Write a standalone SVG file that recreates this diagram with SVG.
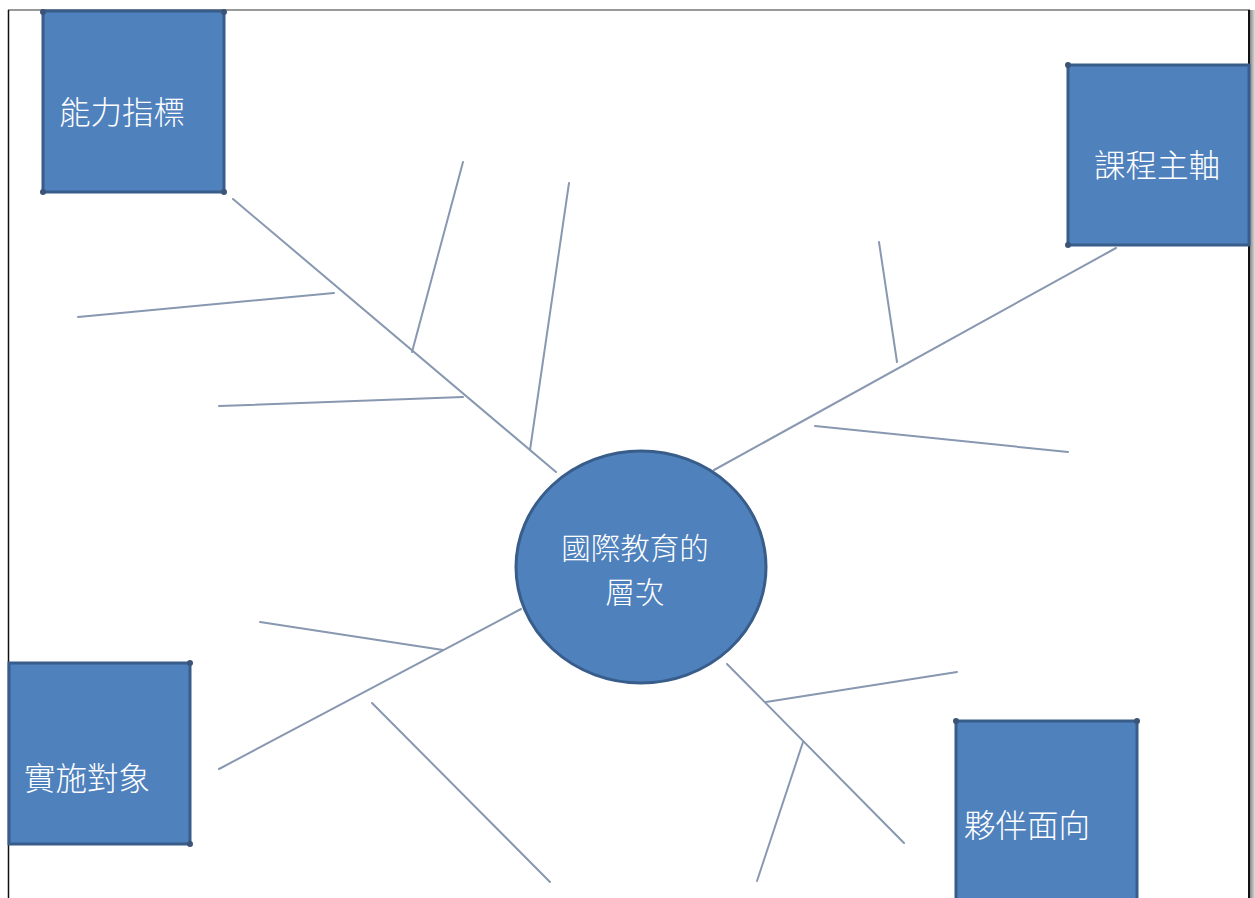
<svg xmlns="http://www.w3.org/2000/svg" width="1255" height="898" viewBox="0 0 1255 898">
<style>
.node{fill:#4f81bd;stroke:#385d8a;stroke-width:3}
.dot{fill:#3b5478}
.lbl{font-family:"Noto Sans CJK TC","Noto Sans CJK SC",sans-serif;font-size:31.5px;font-weight:300;fill:#ffffff}
.clbl{font-size:29.5px}
.conn line{stroke:#8898b0;stroke-width:2;stroke-linecap:round}
</style>
<defs>
<linearGradient id="shadow" x1="0" x2="1" y1="0" y2="0">
<stop offset="0" stop-color="#888"/><stop offset="1" stop-color="#ddd"/>
</linearGradient>
</defs>
<rect x="0" y="0" width="1255" height="898" fill="#ffffff"/>
<g id="frame">
<rect x="1250" y="10" width="5" height="888" fill="url(#shadow)"/>
<line x1="8" y1="10" x2="1250" y2="10" stroke="#777" stroke-width="1.5"/>
<line x1="8.5" y1="10" x2="8.5" y2="898" stroke="#111" stroke-width="1.5"/>
<line x1="1249" y1="10" x2="1249" y2="898" stroke="#111" stroke-width="2"/>
</g>
<g id="connectors" class="conn">
<line x1="233" y1="199" x2="556" y2="472"/>
<line x1="78" y1="317" x2="334" y2="293"/>
<line x1="219" y1="406" x2="463" y2="397"/>
<line x1="412" y1="352" x2="463" y2="162"/>
<line x1="530" y1="450" x2="569" y2="183"/>
<line x1="714" y1="470" x2="1116" y2="248"/>
<line x1="879" y1="242" x2="897" y2="362"/>
<line x1="815" y1="426" x2="1068" y2="452"/>
<line x1="521" y1="609" x2="219" y2="769"/>
<line x1="260" y1="622" x2="443" y2="650"/>
<line x1="372" y1="703" x2="550" y2="882"/>
<line x1="727" y1="664" x2="904" y2="843"/>
<line x1="766" y1="702" x2="957" y2="672"/>
<line x1="803" y1="742" x2="757" y2="881"/>
</g>
<g id="node-center">
<ellipse class="node" cx="641" cy="567" rx="125" ry="116"/>
<text class="lbl clbl" x="635" y="559" text-anchor="middle">國際教育的</text>
<text class="lbl clbl" x="635" y="603" text-anchor="middle">層次</text>
</g>
<g id="node-ability">
<rect class="node" x="43" y="11" width="181" height="181"/>
<circle class="dot" cx="43" cy="192" r="3"/><circle class="dot" cx="224" cy="192" r="3"/>
<circle class="dot" cx="43" cy="12" r="3"/><circle class="dot" cx="224" cy="12" r="3"/>
<text class="lbl" x="59" y="124">能力指標</text>
</g>
<g id="node-curriculum">
<rect class="node" x="1068" y="65" width="181" height="180"/>
<circle class="dot" cx="1068" cy="65" r="3"/><circle class="dot" cx="1068" cy="245" r="3"/>
<text class="lbl" x="1094" y="177">課程主軸</text>
</g>
<g id="node-target">
<rect class="node" x="9" y="663" width="181" height="181"/>
<circle class="dot" cx="190" cy="663" r="3"/><circle class="dot" cx="190" cy="844" r="3"/>
<text class="lbl" x="24" y="790">實施對象</text>
</g>
<g id="node-partner">
<rect class="node" x="956" y="721" width="181" height="190"/>
<circle class="dot" cx="956" cy="721" r="3"/><circle class="dot" cx="1137" cy="721" r="3"/>
<text class="lbl" x="964" y="837">夥伴面向</text>
</g>
</svg>
